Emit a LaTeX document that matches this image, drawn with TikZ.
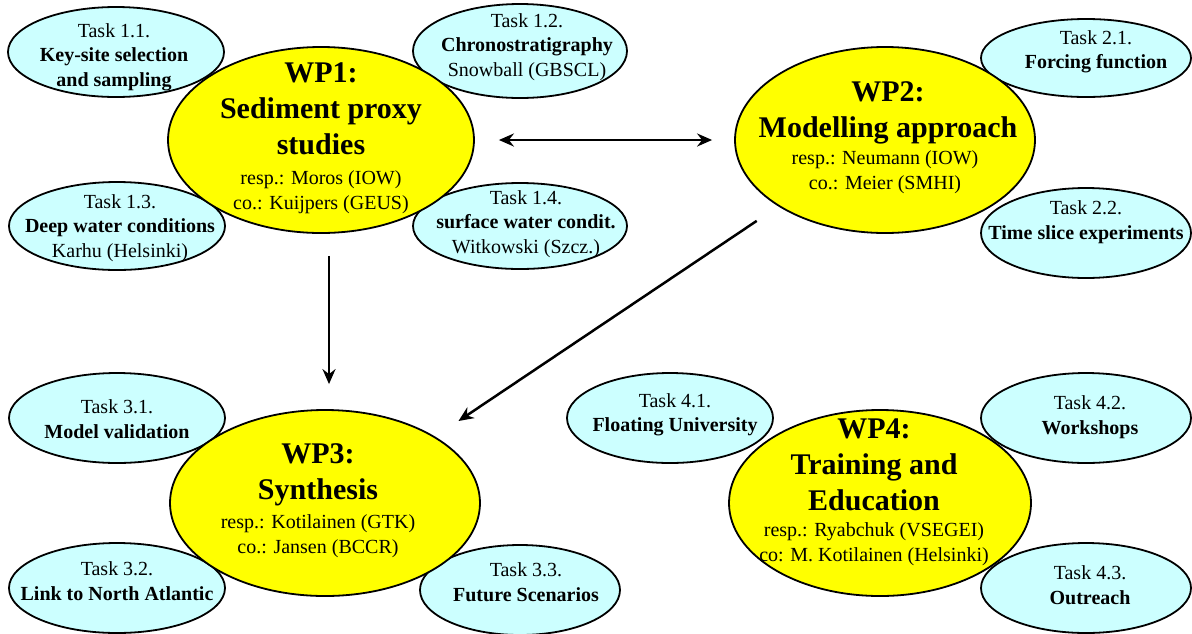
\documentclass[tikz,border=0pt]{standalone}
\usepackage{fontspec}
\setmainfont{Liberation Serif}
\usetikzlibrary{shapes.geometric,arrows.meta}
\definecolor{taskcyan}{RGB}{204,255,255}
\definecolor{wpyellow}{RGB}{255,255,0}

\begin{document}
\begin{tikzpicture}[
  x=1pt,y=-1pt,
  wp/.style={ellipse,draw=black,line width=1.8pt,fill=wpyellow,inner sep=0pt},
  task/.style={ellipse,draw=black,line width=1.8pt,fill=taskcyan,inner sep=0pt},
  txt/.style={align=center,inner sep=0pt,font=\fontsize{20}{24.5}\selectfont},
  wptitle/.style={align=center,inner sep=0pt,font=\fontsize{30}{36}\selectfont\bfseries},
  link/.style={line width=2.5pt,-{Stealth[length=15pt,width=13pt,inset=5pt]}}
]

\useasboundingbox (0,0) rectangle (1192,633);

% task ellipses
\node[task,minimum width=216,minimum height=90] (t11) at (116,52) {};
\node[task,minimum width=214,minimum height=94] (t12) at (520,51) {};
\node[task,minimum width=216,minimum height=88] (t13) at (117,226) {};
\node[task,minimum width=214,minimum height=86] (t14) at (520,226) {};
\node[task,minimum width=210,minimum height=78] (t21) at (1086,58) {};
\node[task,minimum width=210,minimum height=90] (t22) at (1086,233) {};
\node[task,minimum width=216,minimum height=90] (t31) at (117,418) {};
\node[task,minimum width=216,minimum height=90] (t32) at (117,588) {};
\node[task,minimum width=200,minimum height=90] (t33) at (520,590) {};
\node[task,minimum width=206,minimum height=90] (t41) at (670,418) {};
\node[task,minimum width=210,minimum height=90] (t42) at (1086,418) {};
\node[task,minimum width=210,minimum height=90] (t43) at (1086,588) {};

% work packages
\node[wp,minimum width=306,minimum height=186] (wp1) at (321,140) {};
\node[wp,minimum width=300,minimum height=186] (wp2) at (885,140) {};
\node[wp,minimum width=310,minimum height=186] (wp3) at (325,503) {};
\node[wp,minimum width=302,minimum height=186] (wp4) at (880,503) {};

% links
\draw[link,{Stealth[length=15pt,width=13pt,inset=5pt]}-{Stealth[length=15pt,width=13pt,inset=5pt]},shorten <=24pt,shorten >=22pt] (wp1.east) -- (wp2.west);
\draw[link,shorten <=22pt,shorten >=25pt] ([xshift=8pt]wp1.south) -- ([xshift=8pt]wp1.south |- wp3.north);
\draw[link,shorten <=26pt,shorten >=28pt] (wp2.south west) -- (wp3.north east);

% texts
\node[wptitle] (wp1title) at (321,109) {WP1:\\Sediment proxy\\studies};
\node[txt] (wp1resp) at (321,192) {resp.: Moros (IOW)\\co.: Kuijpers (GEUS)};
\node[wptitle] (wp2title) at (888,113) {WP2:\\Modelling approach};
\node[txt] (wp2resp) at (885,172) {resp.: Neumann (IOW)\\co.: Meier (SMHI)};
\node[wptitle] (wp3title) at (318,475) {WP3:\\Synthesis};
\node[txt] (wp3resp) at (318,536) {resp.: Kotilainen (GTK)\\co.: Jansen (BCCR)};
\node[wptitle] (wp4title) at (874,465) {WP4:\\Training and\\Education};
\node[txt] (wp4resp) at (874,544) {resp.: Ryabchuk (VSEGEI)\\co: M. Kotilainen (Helsinki)};

\node[txt] (t11txt) at (114,57) {Task 1.1.\\\textbf{Key-site selection}\\\textbf{and sampling}};
\node[txt] (t12txt) at (527,47) {Task 1.2.\\\textbf{Chronostratigraphy}\\Snowball (GBSCL)};
\node[txt] (t13txt) at (120,228) {Task 1.3.\\\textbf{Deep water conditions}\\Karhu (Helsinki)};
\node[txt] (t14txt) at (526,224) {Task 1.4.\\\textbf{surface water condit.}\\Witkowski (Szcz.)};
\node[txt] (t21txt) at (1096,52) {Task 2.1.\\\textbf{Forcing function}};
\node[txt] (t22txt) at (1086,222) {Task 2.2.\\\textbf{Time slice experiments}};
\node[txt] (t31txt) at (117,419) {Task 3.1.\\\textbf{Model validation}};
\node[txt] (t32txt) at (117,581) {Task 3.2.\\\textbf{Link to North Atlantic}};
\node[txt] (t33txt) at (526,582) {Task 3.3.\\\textbf{Future Scenarios}};
\node[txt] (t41txt) at (675,415) {Task 4.1.\\\textbf{Floating University}};
\node[txt] (t42txt) at (1090,417) {Task 4.2.\\\textbf{Workshops}};
\node[txt] (t43txt) at (1090,585) {Task 4.3.\\\textbf{Outreach}};

\end{tikzpicture}
\end{document}
